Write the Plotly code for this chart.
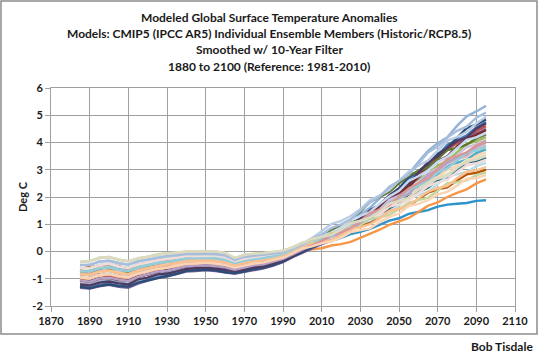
import plotly.graph_objects as go

years = [1885, 1890, 1895, 1900, 1905, 1910, 1915, 1920, 1925, 1930, 1935, 1940,
         1945, 1950, 1955, 1960, 1965, 1970, 1975, 1980, 1985, 1990, 1995, 2000,
         2005, 2010, 2015, 2020, 2025, 2030, 2035, 2040, 2045, 2050, 2055, 2060,
         2065, 2070, 2075, 2080, 2085, 2090, 2095]

run_01 = [-1.19,-1.20,-1.10,-1.05,-1.12,-1.18,-1.06,-0.95,-0.86,-0.78,-0.70,-0.63,-0.60,-0.58,-0.60,-0.66,-0.75,-0.66,-0.60,-0.53,-0.44,-0.32,-0.15,0.03,
          0.25,0.40,0.56,0.83,1.18,1.36,1.61,1.95,2.37,2.58,2.85,3.28,3.69,3.97,4.19,4.61,4.96,5.14,5.35]
run_02 = [-1.28,-1.33,-1.22,-1.18,-1.25,-1.30,-1.16,-1.03,-0.94,-0.88,-0.80,-0.70,-0.69,-0.65,-0.68,-0.74,-0.80,-0.72,-0.66,-0.58,-0.49,-0.36,-0.18,-0.02,
          0.12,0.31,0.58,0.70,0.90,1.17,1.53,1.70,1.92,2.27,2.63,2.89,3.11,3.51,3.92,4.08,4.26,4.56,4.75]
run_03 = [-1.05,-1.12,-1.00,-0.93,-1.02,-1.08,-0.95,-0.82,-0.72,-0.70,-0.60,-0.52,-0.55,-0.50,-0.51,-0.57,-0.68,-0.58,-0.50,-0.47,-0.37,-0.27,-0.10,0.07,
          0.25,0.39,0.62,0.75,0.91,1.20,1.49,1.70,2.03,2.24,2.44,2.83,3.22,3.42,3.74,3.97,4.11,4.42,4.60]
run_04 = [-0.75,-0.70,-0.60,-0.60,-0.68,-0.70,-0.57,-0.52,-0.42,-0.36,-0.34,-0.26,-0.28,-0.24,-0.25,-0.30,-0.46,-0.35,-0.31,-0.25,-0.19,-0.12,0.03,0.19,
          0.31,0.47,0.59,0.79,1.05,1.19,1.33,1.63,1.91,2.12,2.47,2.64,2.85,3.16,3.33,3.64,3.95,4.04,4.20]
run_05 = [-1.33,-1.36,-1.28,-1.22,-1.30,-1.33,-1.18,-1.08,-0.97,-0.92,-0.83,-0.74,-0.72,-0.68,-0.72,-0.78,-0.82,-0.75,-0.68,-0.62,-0.52,-0.39,-0.21,-0.05,
          0.14,0.27,0.39,0.63,0.94,1.09,1.29,1.59,1.96,2.13,2.35,2.73,3.09,3.32,3.49,3.86,4.17,4.32,4.50]
run_06 = [-0.82,-0.87,-0.72,-0.72,-0.78,-0.85,-0.68,-0.63,-0.52,-0.49,-0.41,-0.37,-0.33,-0.34,-0.34,-0.41,-0.53,-0.42,-0.38,-0.32,-0.27,-0.16,-0.02,0.15,
          0.25,0.40,0.62,0.69,0.83,1.05,1.34,1.45,1.60,1.88,2.17,2.35,2.49,2.81,3.15,3.25,3.37,3.61,3.75]
run_07 = [-1.02,-1.08,-0.97,-0.92,-1.00,-1.05,-0.90,-0.85,-0.73,-0.68,-0.62,-0.55,-0.52,-0.52,-0.55,-0.60,-0.68,-0.60,-0.54,-0.48,-0.40,-0.29,-0.14,0.02,
          0.08,0.12,0.22,0.27,0.35,0.50,0.67,0.80,0.98,1.10,1.23,1.45,1.68,1.80,2.00,2.15,2.28,2.50,2.65]
run_08 = [-1.30,-1.35,-1.26,-1.21,-1.27,-1.29,-1.14,-1.06,-0.96,-0.89,-0.82,-0.71,-0.70,-0.67,-0.69,-0.76,-0.79,-0.74,-0.65,-0.60,-0.50,-0.37,-0.19,-0.02,
          0.13,0.32,0.48,0.71,1.02,1.20,1.39,1.73,2.06,2.32,2.73,2.95,3.22,3.58,3.81,4.17,4.53,4.66,4.85]
run_09 = [-1.08,-1.09,-0.98,-0.97,-1.05,-1.06,-0.92,-0.85,-0.75,-0.68,-0.63,-0.55,-0.52,-0.49,-0.54,-0.59,-0.65,-0.57,-0.53,-0.46,-0.39,-0.26,-0.12,0.07,
          0.26,0.38,0.50,0.73,1.03,1.17,1.36,1.65,2.01,2.17,2.38,2.74,3.09,3.31,3.48,3.84,4.14,4.28,4.45]
run_10 = [-0.86,-0.83,-0.76,-0.68,-0.80,-0.81,-0.72,-0.60,-0.55,-0.47,-0.44,-0.35,-0.36,-0.32,-0.36,-0.39,-0.50,-0.44,-0.36,-0.34,-0.25,-0.17,-0.01,0.15,
          0.30,0.50,0.80,0.95,1.16,1.45,1.82,2.00,2.18,2.50,2.78,2.95,3.09,3.40,3.72,3.80,3.92,4.15,4.30]
run_11 = [-1.21,-1.25,-1.14,-1.10,-1.17,-1.21,-1.02,-0.96,-0.84,-0.81,-0.73,-0.64,-0.61,-0.59,-0.63,-0.68,-0.72,-0.67,-0.58,-0.55,-0.45,-0.33,-0.16,0.03,
          0.22,0.36,0.60,0.73,0.90,1.20,1.50,1.71,2.05,2.27,2.48,2.88,3.28,3.49,3.81,4.05,4.19,4.51,4.70]
run_12 = [-0.71,-0.75,-0.64,-0.56,-0.66,-0.72,-0.60,-0.50,-0.44,-0.39,-0.32,-0.28,-0.25,-0.26,-0.27,-0.32,-0.44,-0.37,-0.29,-0.27,-0.21,-0.11,0.01,0.19,
          0.29,0.42,0.51,0.68,0.91,1.01,1.11,1.36,1.59,1.76,2.06,2.18,2.34,2.60,2.73,2.99,3.27,3.32,3.45]
run_13 = [-0.63,-0.58,-0.50,-0.47,-0.54,-0.62,-0.47,-0.42,-0.31,-0.28,-0.23,-0.19,-0.17,-0.18,-0.17,-0.24,-0.37,-0.29,-0.22,-0.21,-0.13,-0.08,0.07,0.24,
          0.37,0.43,0.48,0.65,0.87,0.93,1.03,1.23,1.50,1.57,1.67,1.92,2.16,2.28,2.35,2.61,2.83,2.89,3.00]
run_14 = [-0.48,-0.50,-0.36,-0.35,-0.42,-0.49,-0.35,-0.31,-0.21,-0.18,-0.13,-0.10,-0.08,-0.09,-0.08,-0.15,-0.30,-0.21,-0.15,-0.14,-0.07,-0.02,0.12,0.28,
          0.49,0.75,1.01,1.12,1.30,1.55,1.89,2.05,2.26,2.60,2.93,3.15,3.34,3.70,4.07,4.20,4.39,4.70,4.95]
run_15 = [-0.72,-0.74,-0.61,-0.57,-0.69,-0.70,-0.60,-0.50,-0.44,-0.37,-0.34,-0.27,-0.27,-0.24,-0.27,-0.30,-0.45,-0.37,-0.30,-0.25,-0.20,-0.13,0.02,0.19,
          0.34,0.45,0.65,0.75,0.87,1.12,1.37,1.53,1.81,1.97,2.11,2.45,2.79,2.94,3.20,3.38,3.48,3.75,3.90]
run_16 = [-0.38,-0.36,-0.22,-0.21,-0.29,-0.37,-0.24,-0.20,-0.10,-0.06,-0.04,0.00,-0.01,0.00,-0.01,-0.05,-0.23,-0.14,-0.08,-0.05,-0.02,0.03,0.15,0.32,
          0.42,0.55,0.64,0.81,1.03,1.13,1.23,1.48,1.71,1.87,2.17,2.29,2.45,2.71,2.84,3.10,3.37,3.42,3.55]
run_17 = [-0.95,-0.99,-0.88,-0.82,-0.90,-0.96,-0.80,-0.74,-0.63,-0.60,-0.52,-0.46,-0.43,-0.42,-0.43,-0.50,-0.58,-0.52,-0.43,-0.41,-0.31,-0.22,-0.06,0.11,
          0.28,0.39,0.49,0.71,0.99,1.11,1.28,1.55,1.89,2.03,2.21,2.54,2.86,3.06,3.20,3.54,3.82,3.94,4.10]
run_18 = [-0.60,-0.62,-0.48,-0.46,-0.56,-0.59,-0.49,-0.40,-0.33,-0.26,-0.25,-0.17,-0.19,-0.16,-0.19,-0.22,-0.39,-0.27,-0.24,-0.19,-0.15,-0.06,0.07,0.24,
          0.32,0.45,0.64,0.69,0.80,0.99,1.25,1.32,1.44,1.69,1.94,2.08,2.19,2.47,2.77,2.83,2.92,3.13,3.25]
run_19 = [-0.85,-0.84,-0.75,-0.71,-0.78,-0.84,-0.71,-0.61,-0.54,-0.47,-0.44,-0.35,-0.36,-0.33,-0.35,-0.40,-0.51,-0.43,-0.37,-0.33,-0.26,-0.18,-0.02,0.15,
          0.30,0.40,0.59,0.68,0.79,1.03,1.26,1.41,1.68,1.83,1.96,2.29,2.61,2.74,2.99,3.16,3.25,3.51,3.65]
run_20 = [-0.51,-0.47,-0.38,-0.32,-0.44,-0.47,-0.37,-0.29,-0.23,-0.16,-0.15,-0.08,-0.10,-0.07,-0.10,-0.13,-0.32,-0.19,-0.17,-0.12,-0.09,-0.02,0.11,0.28,
          0.41,0.57,0.69,0.89,1.16,1.30,1.45,1.75,2.02,2.23,2.59,2.76,2.98,3.29,3.47,3.78,4.10,4.19,4.35]
run_21 = [-0.62,-0.61,-0.50,-0.44,-0.55,-0.61,-0.47,-0.41,-0.32,-0.28,-0.23,-0.18,-0.18,-0.17,-0.18,-0.24,-0.38,-0.28,-0.22,-0.20,-0.14,-0.07,0.07,0.24,
          0.38,0.46,0.53,0.71,0.95,1.02,1.14,1.36,1.65,1.73,1.86,2.14,2.40,2.54,2.63,2.92,3.16,3.23,3.35]
run_22 = [-0.39,-0.34,-0.25,-0.19,-0.31,-0.35,-0.26,-0.18,-0.12,-0.06,-0.06,0.00,0.00,-0.01,0.00,-0.06,-0.25,-0.12,-0.09,-0.06,-0.03,0.03,0.15,0.32,
          0.38,0.50,0.68,0.71,0.80,0.97,1.20,1.25,1.34,1.56,1.78,1.89,1.97,2.23,2.51,2.54,2.61,2.80,2.90]
run_23 = [-1.06,-1.11,-0.99,-0.96,-1.03,-1.08,-0.93,-0.83,-0.74,-0.70,-0.61,-0.54,-0.52,-0.51,-0.53,-0.58,-0.67,-0.58,-0.51,-0.47,-0.38,-0.27,-0.11,0.07,
          0.23,0.35,0.56,0.66,0.79,1.05,1.31,1.49,1.79,1.96,2.12,2.47,2.82,2.98,3.26,3.45,3.56,3.84,4.00]
run_24 = [-0.73,-0.72,-0.63,-0.58,-0.66,-0.72,-0.58,-0.51,-0.42,-0.39,-0.33,-0.26,-0.26,-0.25,-0.25,-0.31,-0.45,-0.36,-0.30,-0.26,-0.20,-0.12,0.02,0.19,
          0.30,0.45,0.56,0.74,0.99,1.11,1.23,1.51,1.76,1.95,2.28,2.42,2.61,2.90,3.05,3.34,3.63,3.70,3.85]
run_25 = [-0.83,-0.86,-0.73,-0.70,-0.80,-0.83,-0.69,-0.62,-0.53,-0.48,-0.42,-0.36,-0.34,-0.33,-0.35,-0.40,-0.52,-0.43,-0.37,-0.33,-0.26,-0.17,-0.02,0.15,
          0.29,0.36,0.42,0.59,0.82,0.89,1.00,1.21,1.49,1.57,1.68,1.95,2.20,2.33,2.41,2.69,2.92,2.98,3.10]
run_26 = [-0.97,-0.97,-0.86,-0.84,-0.92,-0.94,-0.82,-0.72,-0.65,-0.58,-0.54,-0.45,-0.45,-0.41,-0.45,-0.49,-0.60,-0.50,-0.45,-0.39,-0.33,-0.22,-0.06,0.11,
          0.22,0.39,0.62,0.70,0.86,1.10,1.41,1.53,1.70,2.00,2.31,2.51,2.68,3.03,3.39,3.50,3.64,3.89,4.05]
run_27 = [-0.50,-0.49,-0.37,-0.34,-0.43,-0.48,-0.36,-0.30,-0.22,-0.17,-0.14,-0.09,-0.09,-0.08,-0.09,-0.14,-0.31,-0.20,-0.16,-0.13,-0.08,-0.02,0.11,0.28,
          0.47,0.62,0.86,1.00,1.18,1.49,1.80,2.02,2.37,2.59,2.81,3.22,3.63,3.85,4.18,4.43,4.58,4.91,5.10]
run_28 = [-0.96,-0.98,-0.87,-0.83,-0.91,-0.95,-0.81,-0.73,-0.64,-0.59,-0.53,-0.45,-0.44,-0.41,-0.44,-0.49,-0.59,-0.51,-0.44,-0.40,-0.32,-0.22,-0.06,0.11,
          0.19,0.30,0.37,0.51,0.71,0.78,0.85,1.08,1.27,1.40,1.67,1.75,1.88,2.10,2.19,2.42,2.67,2.69,2.80]
run_29 = [-0.37,-0.36,-0.23,-0.21,-0.29,-0.36,-0.25,-0.19,-0.11,-0.07,-0.05,-0.01,0.00,0.00,0.00,-0.05,-0.24,-0.13,-0.08,-0.06,-0.02,0.03,0.15,0.32,
          0.46,0.54,0.61,0.80,1.04,1.12,1.25,1.47,1.76,1.85,1.98,2.26,2.53,2.67,2.77,3.06,3.30,3.37,3.50]
run_30 = [-0.74,-0.73,-0.62,-0.59,-0.67,-0.71,-0.59,-0.51,-0.43,-0.38,-0.33,-0.27,-0.26,-0.25,-0.26,-0.31,-0.45,-0.36,-0.30,-0.26,-0.20,-0.12,0.02,0.19,
          0.28,0.32,0.39,0.50,0.64,0.72,0.83,0.97,1.13,1.22,1.38,1.45,1.52,1.65,1.72,1.75,1.78,1.86,1.88]

# drawing order: the low-sensitivity outlier first so the others cover it early on
runs = [run_30, run_07, run_01, run_02, run_03, run_04, run_05, run_06, run_08, run_09,
        run_10, run_11, run_12, run_13, run_14, run_15, run_16, run_17, run_18, run_19,
        run_20, run_21, run_22, run_23, run_24, run_25, run_26, run_27, run_28, run_29]
run_colors = ["#2E93CB", "#F79646", "#95B3D7", "#4F81BD", "#C0504D", "#9BBB59",
              "#8064A2", "#4BACC6", "#2C4D75", "#772C2A", "#5F7530", "#4D3B62",
              "#276A7C", "#B65708", "#B9CDE5", "#E6B9B8", "#D7E4BD", "#CCC1DA",
              "#B7DEE8", "#FCD5B5", "#C6D9F1", "#F2DCDB", "#C3D69B", "#B3A2C7",
              "#92CDDC", "#FAC090", "#D99694", "#A6BDDB", "#FBD4B4", "#DDD9C3"]

title_lines = ["Modeled Global Surface Temperature Anomalies",
               "Models: CMIP5 (IPCC AR5) Individual Ensemble Members (Historic/RCP8.5)",
               "Smoothed w/ 10-Year Filter",
               "1880 to 2100 (Reference: 1981-2010)"]
x_ticks = [1870, 1890, 1910, 1930, 1950, 1970, 1990, 2010, 2030, 2050, 2070, 2090, 2110]
y_ticks = [-2, -1, 0, 1, 2, 3, 4, 5, 6]
y_tick_labels = ["-2", "-1", "0", "1", "2", "3", "4", "5", "6"]

fig = go.Figure()
for vals, col in zip(runs, run_colors):
    fig.add_trace(go.Scatter(x=years, y=vals, mode="lines",
                             line=dict(color=col, width=2.4), hoverinfo="skip",
                             showlegend=False))

FONT = "Lato, 'Open Sans', sans-serif"
L, R, T, B = 51, 25, 88, 47
W, H = 540, 353
pw, ph = W - L - R, H - T - B

def px(xp):
    return (xp - L) / pw

def py(yp):
    return (H - B - yp) / ph

annotations = []
for txt, ypix in zip(title_lines, [17, 33.5, 50, 66.5]):
    annotations.append(dict(text="<b>" + txt + "</b>", xref="paper", yref="paper",
                            x=px(269), y=py(ypix), xanchor="center", yanchor="middle",
                            showarrow=False, font=dict(family=FONT, size=12, color="#1a1a1a")))
annotations.append(dict(text="<b>Deg C</b>", xref="paper", yref="paper",
                        x=px(22), y=0.5, textangle=-90, xanchor="center", yanchor="middle",
                        showarrow=False, font=dict(family=FONT, size=11, color="#1a1a1a")))
annotations.append(dict(text="<b>Bob Tisdale</b>", xref="paper", yref="paper",
                        x=px(535), y=py(346), xanchor="right", yanchor="middle",
                        showarrow=False, font=dict(family=FONT, size=12, color="#1a1a1a")))

fig.update_layout(
    width=W, height=H, margin=dict(l=L, r=R, t=T, b=B),
    paper_bgcolor="white", plot_bgcolor="white",
    showlegend=False,
    annotations=annotations,
    shapes=[dict(type="rect", xref="paper", yref="paper",
                 x0=px(1), x1=px(537), y0=py(334), y1=py(1),
                 line=dict(color="#8c8c8c", width=1.5), layer="below")],
)
fig.update_xaxes(range=[1870, 2110], tickvals=x_ticks,
                 showgrid=True, gridcolor="#a0a0a0", gridwidth=1,
                 showline=True, linecolor="#a0a0a0", linewidth=1, mirror=True,
                 ticks="outside", ticklen=5, tickcolor="#a0a0a0",
                 zeroline=False,
                 tickfont=dict(family=FONT, size=11, color="#1a1a1a", weight="bold"))
fig.update_yaxes(range=[-2, 6], tickvals=y_ticks, ticktext=y_tick_labels,
                 showgrid=True, gridcolor="#a0a0a0", gridwidth=1,
                 showline=True, linecolor="#a0a0a0", linewidth=1, mirror=True,
                 ticks="outside", ticklen=5, tickcolor="#a0a0a0",
                 zeroline=False,
                 tickfont=dict(family=FONT, size=11, color="#1a1a1a", weight="bold"))

fig.write_html("out.html")
